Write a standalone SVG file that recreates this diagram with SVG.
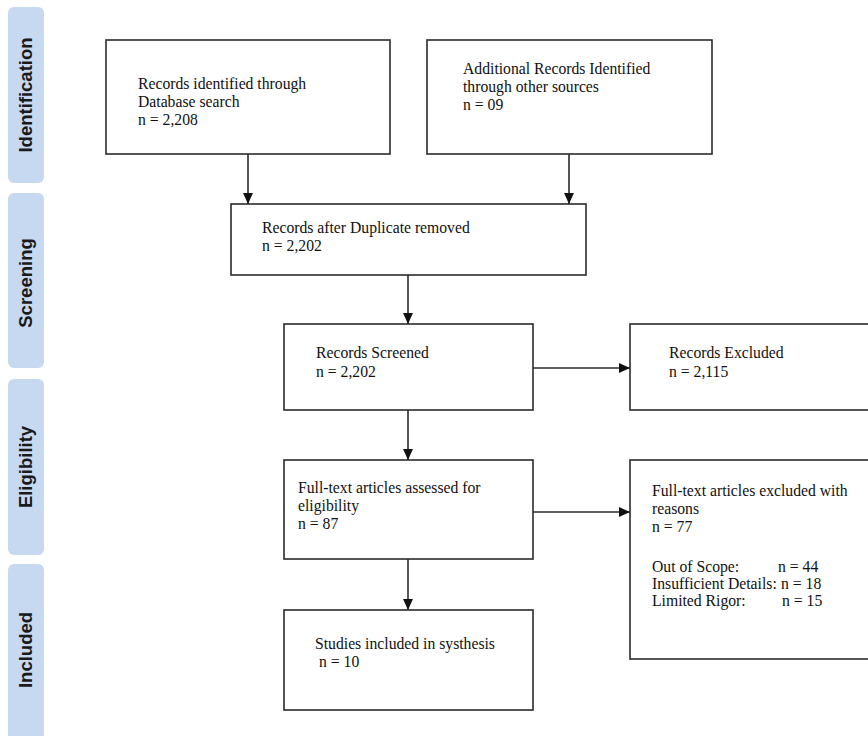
<svg xmlns="http://www.w3.org/2000/svg" width="868" height="736" viewBox="0 0 868 736">
<style>
.side{fill:#c6d9f1;stroke:none}
.slab{font-family:"Liberation Sans",Arial,sans-serif;font-weight:bold;font-size:18.5px;fill:#1a1a1a;text-anchor:middle}
.box{fill:#fff;stroke:#2b2b2b;stroke-width:1.6}
.t{font-family:"Liberation Serif","Times New Roman",serif;font-size:15.7px;fill:#111}
.c{stroke:#2b2b2b;stroke-width:1.6;fill:none;marker-end:url(#ah)}
</style>
<defs>
<marker id="ah" viewBox="0 0 10 10" refX="10" refY="5" markerWidth="11" markerHeight="11" markerUnits="userSpaceOnUse" orient="auto">
<path d="M0,0.5 L10,5 L0,9.5 z" fill="#111"/>
</marker>
</defs>
<rect width="868" height="736" fill="#fff"/>
<g id="stage-identification">
<rect class="side" x="8" y="7" width="36" height="176" rx="6"/>
<text class="slab" transform="translate(32,95) rotate(-90)">Identification</text>
</g>
<g id="stage-screening">
<rect class="side" x="8" y="193" width="36" height="175" rx="6"/>
<text class="slab" transform="translate(32,283) rotate(-90)">Screening</text>
</g>
<g id="stage-eligibility">
<rect class="side" x="8" y="379" width="36" height="176" rx="6"/>
<text class="slab" transform="translate(32,467) rotate(-90)">Eligibility</text>
</g>
<g id="stage-included">
<rect class="side" x="8" y="564" width="36" height="180" rx="6"/>
<text class="slab" transform="translate(32,650) rotate(-90)">Included</text>
</g>
<g id="db-search">
<rect class="box" x="106" y="40" width="284" height="114"/>
<text class="t" x="138" y="89">Records identified through</text>
<text class="t" x="138" y="107">Database search</text>
<text class="t" x="138" y="125">n = 2,208</text>
</g>
<g id="other-sources">
<rect class="box" x="427" y="40" width="285" height="114"/>
<text class="t" x="463" y="74">Additional Records Identified</text>
<text class="t" x="463" y="92">through other sources</text>
<text class="t" x="463" y="110">n = 09</text>
</g>
<g id="dedup">
<rect class="box" x="231" y="204" width="355" height="71"/>
<text class="t" x="262" y="233">Records after Duplicate removed</text>
<text class="t" x="262" y="251">n = 2,202</text>
</g>
<g id="screened">
<rect class="box" x="284" y="324" width="249" height="86"/>
<text class="t" x="316" y="358">Records Screened</text>
<text class="t" x="316" y="377">n = 2,202</text>
</g>
<g id="excluded">
<rect class="box" x="630" y="324" width="250" height="86"/>
<text class="t" x="669" y="358">Records Excluded</text>
<text class="t" x="669" y="377">n = 2,115</text>
</g>
<g id="fulltext">
<rect class="box" x="284" y="460" width="249" height="99"/>
<text class="t" x="298" y="493">Full-text articles assessed for</text>
<text class="t" x="298" y="511">eligibility</text>
<text class="t" x="298" y="529">n = 87</text>
</g>
<g id="fulltext-excluded">
<rect class="box" x="630" y="460" width="250" height="199"/>
<text class="t" x="652" y="496">Full-text articles excluded with</text>
<text class="t" x="652" y="514">reasons</text>
<text class="t" x="652" y="532">n = 77</text>
<text class="t" x="652" y="572">Out of Scope:</text>
<text class="t" x="778" y="572">n = 44</text>
<text class="t" x="652" y="589">Insufficient Details:</text>
<text class="t" x="781" y="589">n = 18</text>
<text class="t" x="652" y="606">Limited Rigor:</text>
<text class="t" x="782" y="606">n = 15</text>
</g>
<g id="included">
<rect class="box" x="284" y="610" width="249" height="100"/>
<text class="t" x="315" y="649">Studies included in systhesis</text>
<text class="t" x="319" y="667">n = 10</text>
</g>
<g id="connectors">
<line class="c" x1="248" y1="154" x2="248" y2="204"/>
<line class="c" x1="569" y1="154" x2="569" y2="204"/>
<line class="c" x1="408" y1="275" x2="408" y2="324"/>
<line class="c" x1="408" y1="410" x2="408" y2="460"/>
<line class="c" x1="408" y1="559" x2="408" y2="610"/>
<line class="c" x1="533" y1="368" x2="630" y2="368"/>
<line class="c" x1="533" y1="512" x2="630" y2="512"/>
</g>
</svg>
